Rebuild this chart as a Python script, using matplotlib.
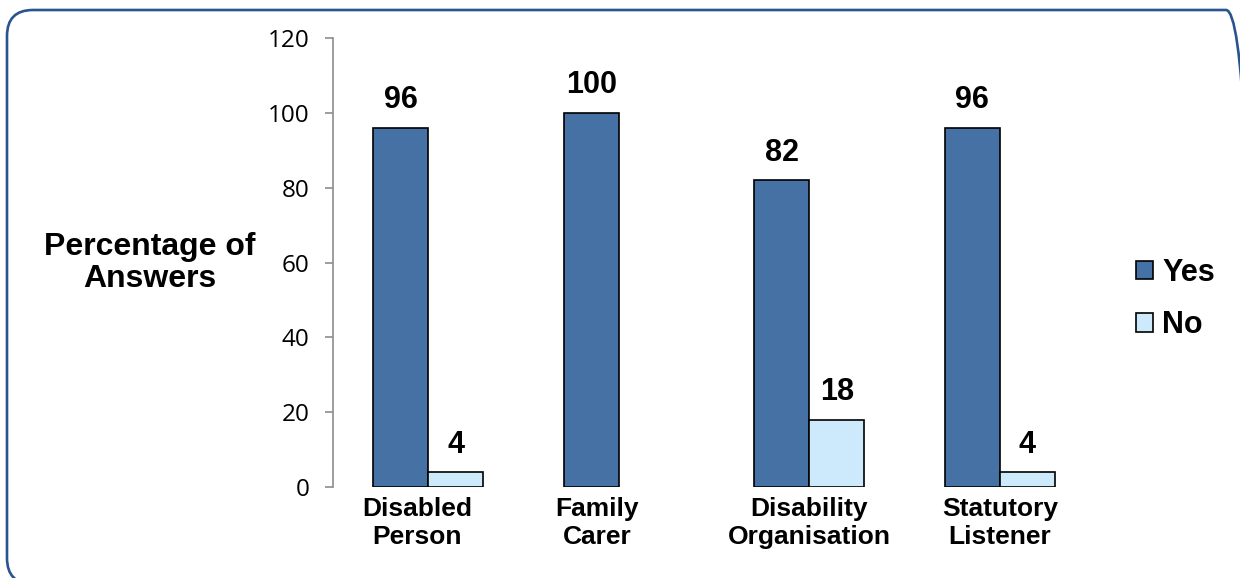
import matplotlib
matplotlib.use("Agg")
import matplotlib.pyplot as plt
import matplotlib.patches as mpatches
from matplotlib.transforms import ScaledTranslation
import numpy as np

# ---------------------------------------------------------------------------
# Data
# ---------------------------------------------------------------------------
categories = ["Disabled\nPerson", "Family\nCarer", "Disability\nOrganisation", "Statutory\nListener"]
yes_values = [96, 100, 82, 96]
no_values = [4, 0, 18, 4]
series_names = ["Yes", "No"]
y_ticks = [0, 20, 40, 60, 80, 100, 120]

# ---------------------------------------------------------------------------
# Style
# ---------------------------------------------------------------------------
_YES_COLOR = "#4571A5"
_NO_COLOR = "#CCEAFC"
_BORDER_COLOR = "#2A5490"
_BOLD = dict(family="Liberation Sans", weight="bold")
# the original has the first two category labels nudged left a little (px)
_LABEL_NUDGE = [-11, -22, 0, 0]

W, H = 1240, 578
fig = plt.figure(figsize=(W / 100, H / 100), dpi=100)

# background axes in pixel units, for the rounded outer border
bg = fig.add_axes([0, 0, 1, 1])
bg.set_xlim(0, W)
bg.set_ylim(0, H)
bg.set_axis_off()
bg.add_patch(mpatches.FancyBboxPatch((7, -6), 1252 - 7, 568 + 6,
                                     boxstyle="round,pad=0,rounding_size=26",
                                     fill=False, edgecolor=_BORDER_COLOR,
                                     linewidth=1.9, clip_on=False))

ax = fig.add_axes([333 / W, 1 - 487 / H, (1095 - 333) / W, (487 - 38) / H])
ax.patch.set_alpha(0)

x = np.arange(len(categories))
width = 0.29
bars_yes = ax.bar(x - width / 2, yes_values, width, color=_YES_COLOR,
                  edgecolor="black", linewidth=1.2, label=series_names[0])
bars_no = ax.bar(x + width / 2, no_values, width, color=_NO_COLOR,
                 edgecolor="black", linewidth=1.2, label=series_names[1])

# value labels (skip zero bars, like the original)
for bars, vals in ((bars_yes, yes_values), (bars_no, no_values)):
    for rect, v in zip(bars, vals):
        if v == 0:
            rect.set_edgecolor("none")
            continue
        ax.annotate(f"{v}", xy=(rect.get_x() + rect.get_width() / 2, v),
                    xytext=(0, 14), textcoords="offset points",
                    ha="center", va="baseline", fontsize=22, **_BOLD)

ax.set_xlim(-0.5, len(categories) - 0.5)
ax.set_ylim(0, 120)
ax.set_yticks(y_ticks)
ax.tick_params(axis="y", direction="out", length=6, width=1.2, color="#8C8C8C",
               pad=11, labelsize=17.5)
for lab in ax.get_yticklabels():
    lab.set_family("Open Sans")

ax.set_xticks(x)
ax.set_xticklabels(categories, fontsize=19, linespacing=1.25, **_BOLD)
ax.tick_params(axis="x", length=0, pad=7)
for lab, dx in zip(ax.get_xticklabels(), _LABEL_NUDGE):
    lab.set_transform(lab.get_transform() + ScaledTranslation(dx / 100, 0, fig.dpi_scale_trans))

for side in ("top", "right", "bottom"):
    ax.spines[side].set_visible(False)
ax.spines["left"].set_color("#8C8C8C")
ax.spines["left"].set_linewidth(1.2)

fig.text(150 / W, 1 - 263 / H, "Percentage of\nAnswers", ha="center", va="center",
         fontsize=23, linespacing=1.08, **_BOLD)

ax.legend(loc="center left", bbox_to_anchor=(1115 / W, 1 - 299 / H),
          bbox_transform=fig.transFigure, frameon=False,
          prop=dict(family="Liberation Sans", weight="bold", size=22),
          handlelength=0.55, handleheight=0.55, handletextpad=0.3,
          labelspacing=0.75, borderpad=0.2)

fig.savefig("out.png", dpi=100)
